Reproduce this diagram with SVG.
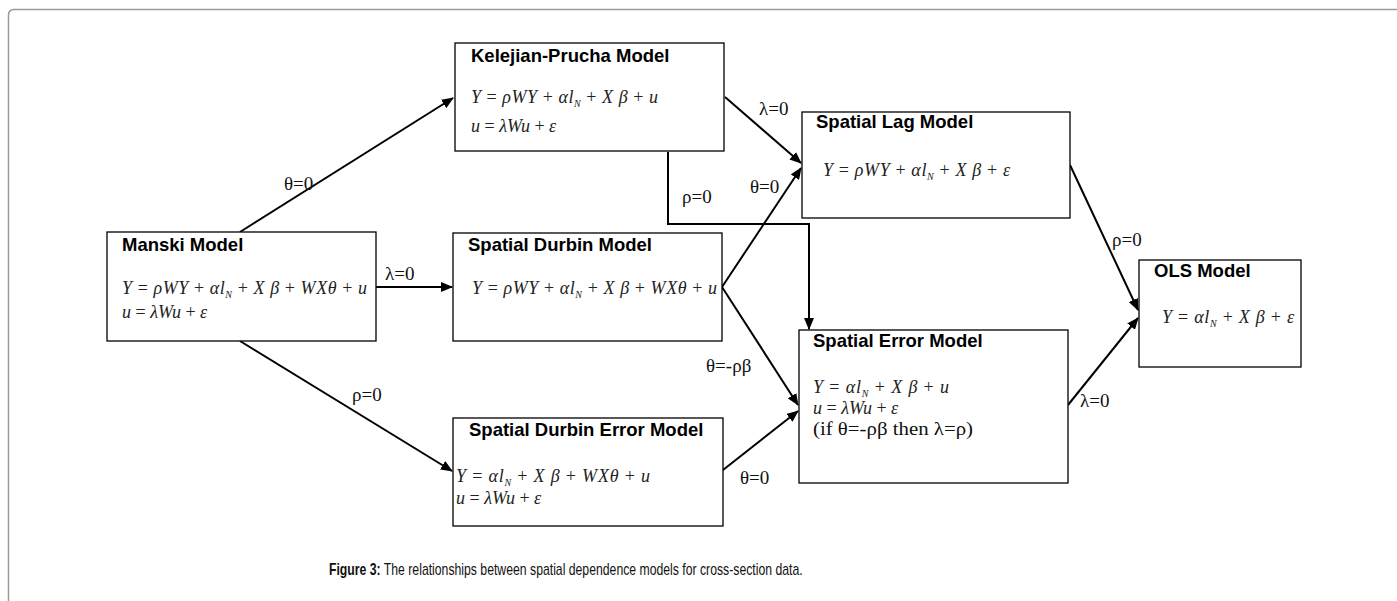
<svg xmlns="http://www.w3.org/2000/svg" width="1397" height="601" viewBox="0 0 1397 601">
<style>
.box{fill:#fff;stroke:#000;stroke-width:1.3}
.title{font-family:"Liberation Sans",Arial,sans-serif;font-weight:bold;font-size:18.5px;fill:#000}
.eq{font-family:"Liberation Serif","Times New Roman",serif;font-size:18px;fill:#222}
.i{font-style:italic}
.sub{font-size:10px;font-style:italic}
.lbl{font-family:"Liberation Serif","Times New Roman",serif;font-size:19px;fill:#111}
.con{fill:none;stroke:#000;stroke-width:2}
.cap{font-family:"Liberation Sans",Arial,sans-serif;font-size:16px;fill:#111}
</style>
<defs>
<marker id="ah" viewBox="0 0 12 10" refX="11" refY="5" markerWidth="12" markerHeight="10" markerUnits="userSpaceOnUse" orient="auto">
<path d="M0,0 L12,5 L0,10 Z" fill="#000"/>
</marker>
</defs>
<rect width="1397" height="601" fill="#fff"/>
<path d="M8.5,601 V15 Q8.5,9.5 14,9.5 H1397" fill="none" stroke="#9a9a9a" stroke-width="1.5"/>

<g id="connectors">
<line class="con" x1="240" y1="232" x2="453" y2="98" marker-end="url(#ah)"/>
<line class="con" x1="376" y1="287" x2="452" y2="287" marker-end="url(#ah)"/>
<line class="con" x1="240" y1="341" x2="452" y2="471" marker-end="url(#ah)"/>
<line class="con" x1="725" y1="97" x2="801" y2="163" marker-end="url(#ah)"/>
<polyline class="con" points="668,152 668,224 809,224 809,329" marker-end="url(#ah)"/>
<line class="con" x1="722" y1="287" x2="798" y2="405" marker-end="url(#ah)"/>
<line class="con" x1="722" y1="287" x2="801" y2="168" marker-end="url(#ah)"/>
<line class="con" x1="723" y1="470" x2="798" y2="411" marker-end="url(#ah)"/>
<line class="con" x1="1070" y1="165" x2="1138" y2="310" marker-end="url(#ah)"/>
<line class="con" x1="1068" y1="405" x2="1138" y2="318" marker-end="url(#ah)"/>
<text class="lbl" x="284" y="190">θ=0</text>
<text class="lbl" x="385" y="280">λ=0</text>
<text class="lbl" x="352" y="401">ρ=0</text>
<text class="lbl" x="759" y="115">λ=0</text>
<text class="lbl" x="682" y="203">ρ=0</text>
<text class="lbl" x="750" y="193">θ=0</text>
<text class="lbl" x="706" y="372">θ=-ρβ</text>
<text class="lbl" x="740" y="484">θ=0</text>
<text class="lbl" x="1112" y="246">ρ=0</text>
<text class="lbl" x="1080" y="407">λ=0</text>
</g>

<g id="kelejian">
<rect class="box" x="455" y="43" width="269" height="108"/>
<text class="title" x="471" y="62">Kelejian-Prucha Model</text>
<text class="eq" x="471" y="103" textLength="187" lengthAdjust="spacing"><tspan class="i">Y</tspan> = <tspan class="i">ρWY</tspan> + <tspan class="i">αl</tspan><tspan class="sub" dy="4">N</tspan><tspan dy="-4"> + </tspan><tspan class="i">X β</tspan> + <tspan class="i">u</tspan></text>
<text class="eq" x="471" y="132"><tspan class="i">u</tspan> = <tspan class="i">λWu</tspan> + <tspan class="i">ε</tspan></text>
</g>

<g id="manski">
<rect class="box" x="107" y="232" width="269" height="109"/>
<text class="title" x="122" y="251">Manski Model</text>
<text class="eq" x="122" y="294" textLength="245" lengthAdjust="spacing"><tspan class="i">Y</tspan> = <tspan class="i">ρWY</tspan> + <tspan class="i">αl</tspan><tspan class="sub" dy="4">N</tspan><tspan dy="-4"> + </tspan><tspan class="i">X β</tspan> + <tspan class="i">WXθ</tspan> + <tspan class="i">u</tspan></text>
<text class="eq" x="122" y="318"><tspan class="i">u</tspan> = <tspan class="i">λWu</tspan> + <tspan class="i">ε</tspan></text>
</g>

<g id="durbin">
<rect class="box" x="453" y="233" width="269" height="108"/>
<text class="title" x="468" y="251">Spatial Durbin Model</text>
<text class="eq" x="472" y="294" textLength="245" lengthAdjust="spacing"><tspan class="i">Y</tspan> = <tspan class="i">ρWY</tspan> + <tspan class="i">αl</tspan><tspan class="sub" dy="4">N</tspan><tspan dy="-4"> + </tspan><tspan class="i">X β</tspan> + <tspan class="i">WXθ</tspan> + <tspan class="i">u</tspan></text>
</g>

<g id="durbin-error">
<rect class="box" x="453" y="418" width="270" height="108"/>
<text class="title" x="469" y="436">Spatial Durbin Error Model</text>
<text class="eq" x="456" y="482" textLength="194" lengthAdjust="spacing"><tspan class="i">Y</tspan> = <tspan class="i">αl</tspan><tspan class="sub" dy="4">N</tspan><tspan dy="-4"> + </tspan><tspan class="i">X β</tspan> + <tspan class="i">WXθ</tspan> + <tspan class="i">u</tspan></text>
<text class="eq" x="456" y="504"><tspan class="i">u</tspan> = <tspan class="i">λWu</tspan> + <tspan class="i">ε</tspan></text>
</g>

<g id="spatial-lag">
<rect class="box" x="802" y="112" width="268" height="106"/>
<text class="title" x="816" y="128">Spatial Lag Model</text>
<text class="eq" x="823" y="176" textLength="187" lengthAdjust="spacing"><tspan class="i">Y</tspan> = <tspan class="i">ρWY</tspan> + <tspan class="i">αl</tspan><tspan class="sub" dy="4">N</tspan><tspan dy="-4"> + </tspan><tspan class="i">X β</tspan> + <tspan class="i">ε</tspan></text>
</g>

<g id="spatial-error">
<rect class="box" x="799" y="330" width="269" height="153"/>
<text class="title" x="813" y="347">Spatial Error Model</text>
<text class="eq" x="813" y="393" textLength="136" lengthAdjust="spacing"><tspan class="i">Y</tspan> = <tspan class="i">αl</tspan><tspan class="sub" dy="4">N</tspan><tspan dy="-4"> + </tspan><tspan class="i">X β</tspan> + <tspan class="i">u</tspan></text>
<text class="eq" x="813" y="414"><tspan class="i">u</tspan> = <tspan class="i">λWu</tspan> + <tspan class="i">ε</tspan></text>
<text class="lbl" x="813" y="435" textLength="160" lengthAdjust="spacingAndGlyphs">(if θ=-ρβ then λ=ρ)</text>
</g>

<g id="ols">
<rect class="box" x="1139" y="260" width="162" height="107"/>
<text class="title" x="1154" y="277">OLS Model</text>
<text class="eq" x="1162" y="323" textLength="132" lengthAdjust="spacing"><tspan class="i">Y</tspan> = <tspan class="i">αl</tspan><tspan class="sub" dy="4">N</tspan><tspan dy="-4"> + </tspan><tspan class="i">X β</tspan> + <tspan class="i">ε</tspan></text>
</g>

<text class="cap" transform="translate(329,575) scale(0.765,1)" x="0" y="0"><tspan font-weight="bold">Figure 3:</tspan> The relationships between spatial dependence models for cross-section data.</text>
</svg>
